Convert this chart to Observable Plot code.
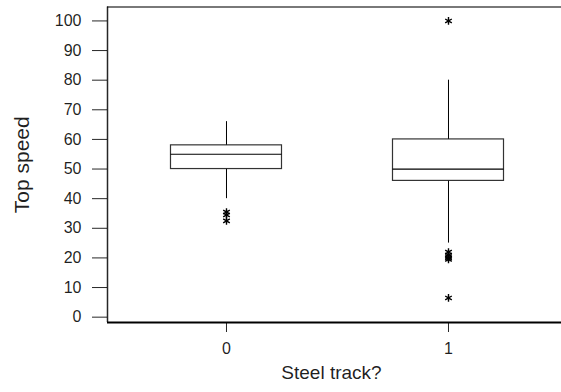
<!DOCTYPE html>
<html>
<head>
<meta charset="utf-8">
<script src="https://cdn.jsdelivr.net/npm/d3@7"></script>
<script src="https://cdn.jsdelivr.net/npm/@observablehq/plot@0.6"></script>
<style>
  html, body { margin: 0; padding: 0; background: #fff; overflow: hidden; width: 561px; height: 392px; }
  #chart svg { display: block; max-width: none !important; }
</style>
</head>
<body>
<div id="chart"></div>
<script>
// Categories (Steel track?)
const groups = [0, 1];
// Box statistics per group (Top speed)
const whiskerLow = [40, 25];
const q1 = [50, 46];
const median = [55, 50];
const q3 = [58, 60];
const whiskerHigh = [66, 80];
// Outliers per group
const outliers0 = [35.5, 34.5, 32.5];
const outliers1 = [100, 22, 21, 20.5, 20, 19.5, 6.5];
// Tick labels
const yTicks = [0, 10, 20, 30, 40, 50, 60, 70, 80, 90, 100];
const xTicks = [0, 1];
// Scale domains
const xDomain = [-0.536, 1.509];
const yDomain = [-1.8, 104.7];

const boxes = groups.map((g, i) => ({
  g, lo: whiskerLow[i], q1: q1[i], med: median[i], q3: q3[i], hi: whiskerHigh[i]
}));
const outliers = [
  ...outliers0.map(v => ({g: 0, v})),
  ...outliers1.map(v => ({g: 1, v}))
];
const half = 0.25;

const chart = Plot.plot({
  width: 561,
  height: 392,
  marginLeft: 107,
  marginRight: 0,
  marginTop: 6.5,
  marginBottom: 70,
  style: {fontFamily: "'Liberation Sans', Arial, sans-serif", fontSize: "16px", color: "black", background: "white"},
  x: {type: "linear", domain: xDomain, label: null},
  y: {domain: yDomain, label: null},
  marks: [
    // open frame: top, left, bottom
    Plot.ruleY([yDomain[1]], {stroke: "black", strokeOpacity: 0.7, strokeWidth: 1.5}),
    Plot.ruleX([xDomain[0]], {stroke: "black", strokeOpacity: 0.85, strokeWidth: 1.5}),
    Plot.ruleY([yDomain[0]], {stroke: "black", strokeWidth: 2}),
    Plot.axisY({ticks: yTicks, tickSize: 15, tickPadding: 11, stroke: "black", strokeOpacity: 0.85, fill: "black", fillOpacity: 0.88, fontSize: 16, label: null}),
    Plot.axisX({ticks: xTicks, tickSize: 10, tickPadding: 10, stroke: "black", strokeOpacity: 0.85, fill: "black", fillOpacity: 0.88, fontSize: 16, tickFormat: d => String(d), label: null}),
    // whiskers
    Plot.ruleX(boxes, {x: "g", y1: "lo", y2: "q1", stroke: "black", strokeWidth: 1}),
    Plot.ruleX(boxes, {x: "g", y1: "q3", y2: "hi", stroke: "black", strokeWidth: 1}),
    // boxes
    Plot.rect(boxes, {x1: d => d.g - half, x2: d => d.g + half, y1: "q1", y2: "q3", fill: "white", stroke: "black", strokeOpacity: 0.8, strokeWidth: 1.2}),
    // medians
    Plot.ruleY(boxes, {y: "med", x1: d => d.g - half, x2: d => d.g + half, stroke: "black", strokeWidth: 1.2}),
    // outliers
    Plot.dot(outliers, {x: "g", y: "v", symbol: "asterisk", r: 3.6, stroke: "black", strokeWidth: 1.4}),
    // axis titles
    Plot.text(["Steel track?"], {frameAnchor: "bottom", dy: 56, dx: -3, text: d => d, fontSize: 19, fill: "black", fillOpacity: 0.88, textAnchor: "middle"}),
    Plot.text(["Top speed"], {frameAnchor: "left", dx: -85, rotate: -90, text: d => d, fontSize: 21, fill: "black", fillOpacity: 0.88, textAnchor: "middle"})
  ]
});
document.getElementById("chart").appendChild(chart);
</script>
</body>
</html>
